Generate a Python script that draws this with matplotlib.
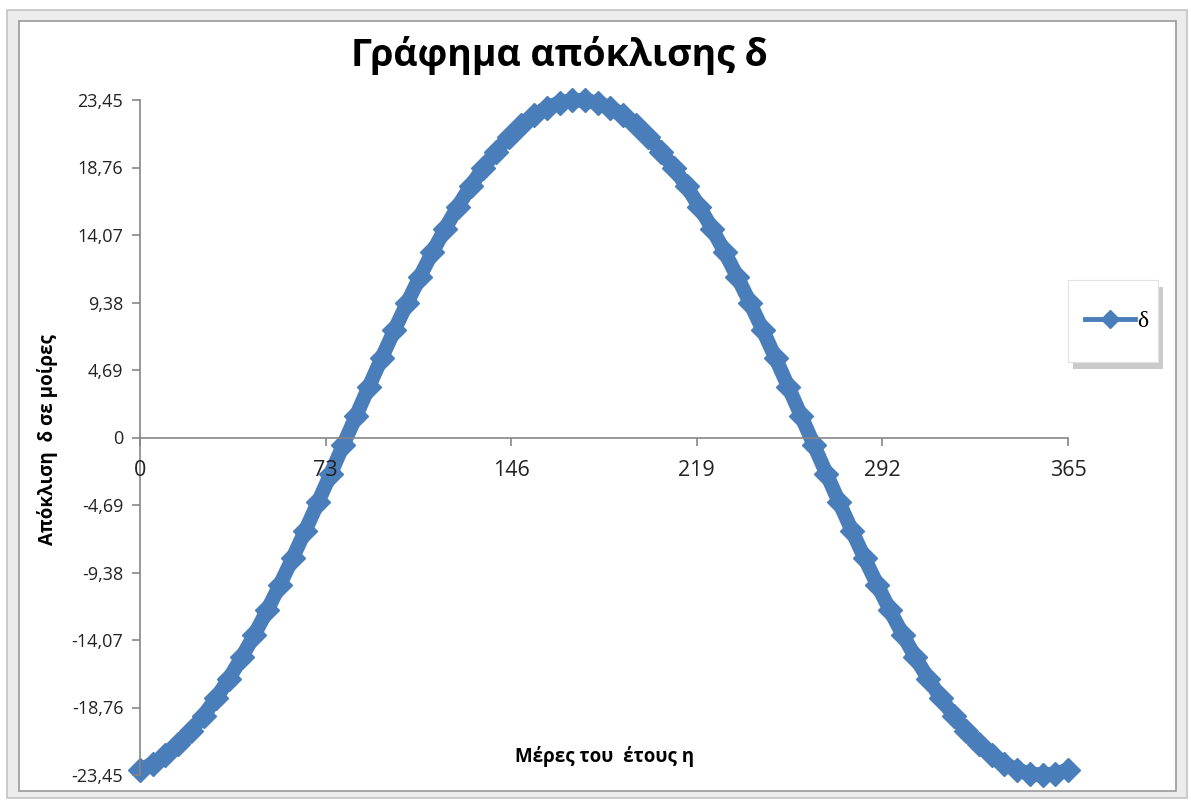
import matplotlib.pyplot as plt
from matplotlib.lines import Line2D
from matplotlib.patches import Rectangle

# day of year and declination (degrees), every 5 days
days = [0, 5, 10, 15, 20, 25, 30, 35, 40, 45, 50, 55, 60, 65, 70, 75, 80, 85, 90, 95,
        100, 105, 110, 115, 120, 125, 130, 135, 140, 145, 150, 155, 160, 165, 170, 175,
        180, 185, 190, 195, 200, 205, 210, 215, 220, 225, 230, 235, 240, 245, 250, 255,
        260, 265, 270, 275, 280, 285, 290, 295, 300, 305, 310, 315, 320, 325, 330, 335,
        340, 345, 350, 355, 360, 365]
delta = [-23.10, -22.67, -22.07, -21.31, -20.39, -19.32, -18.11, -16.76, -15.28, -13.70,
         -12.02, -10.24, -8.39, -6.47, -4.51, -2.52, -0.50, 1.51, 3.52, 5.50,
         7.44, 9.32, 11.14, 12.87, 14.51, 16.04, 17.45, 18.73, 19.87, 20.87,
         21.71, 22.39, 22.91, 23.26, 23.43, 23.43, 23.26, 22.91, 22.39, 21.71,
         20.87, 19.87, 18.73, 17.45, 16.04, 14.51, 12.87, 11.14, 9.32, 7.44,
         5.50, 3.52, 1.51, -0.50, -2.52, -4.51, -6.47, -8.39, -10.24, -12.02,
         -13.70, -15.28, -16.76, -18.11, -19.32, -20.39, -21.31, -22.07, -22.67, -23.10,
         -23.36, -23.45, -23.36, -23.10]

x_ticks = [0, 73, 146, 219, 292, 365]
y_ticks = [-23.45, -18.76, -14.07, -9.38, -4.69, 0, 4.69, 9.38, 14.07, 18.76, 23.45]

blue = '#4a7ebb'
axis_gray = '#868686'
plt.rcParams['font.family'] = ['Open Sans', 'Liberation Sans', 'DejaVu Sans']

fig = plt.figure(figsize=(11.91, 8), dpi=100)
W, H = 1191, 800


def px_rect(x0, y0, x1, y1, **kw):
    # rectangle given in pixel coords (origin top-left)
    r = Rectangle((x0 / W, 1 - y1 / H), (x1 - x0) / W, (y1 - y0) / H,
                  transform=fig.transFigure, **kw)
    fig.patches.append(r)
    return r


# Excel-like chart frame, kept behind the axes
px_rect(7, 10, 1187, 798, facecolor='#ececec', edgecolor='#c4c4c4', lw=1.2, zorder=-2)
px_rect(19, 21, 1176, 791, facecolor='white', edgecolor='#9a9a9a', lw=1.2, zorder=-1)

ax = fig.add_axes([140 / W, 1 - 775 / H, 928 / W, 675 / H])
ax.set_facecolor('none')
ax.set_axisbelow(False)  # tick labels sit on top of the curve, as in the original

ax.plot(days, delta, color=blue, lw=10.5, marker='D', markersize=12.5,
        markeredgecolor=blue, clip_on=False, zorder=2, solid_joinstyle='round',
        solid_capstyle='round')

ax.set_xlim(0, 365)
ax.set_ylim(-23.45, 23.45)
ax.set_xticks(x_ticks)
ax.set_xticklabels([str(v) for v in x_ticks])
ax.set_yticks(y_ticks)
ax.set_yticklabels(['0' if v == 0 else f'{v:.2f}'.replace('.', ',') for v in y_ticks])

ax.spines['top'].set_visible(False)
ax.spines['right'].set_visible(False)
ax.spines['bottom'].set_position(('data', 0))
for s in ('left', 'bottom'):
    ax.spines[s].set_color(axis_gray)
    ax.spines[s].set_linewidth(1.2)
ax.tick_params(axis='both', colors=axis_gray, length=6, width=1.2, labelcolor='#222222')
ax.tick_params(axis='x', pad=10, labelsize=15.5)
ax.tick_params(axis='y', pad=6, labelsize=13)

fig.text(0.470, 0.931, 'Γράφημα απόκλισης δ', ha='center', va='center',
         fontsize=27, fontweight='bold')
fig.text(0.0395, 0.45, 'Απόκλιση  δ σε μοίρες', ha='center', va='center',
         rotation=90, fontsize=13.5, fontweight='bold')
fig.text(0.508, 0.054, 'Μέρες του  έτους η', ha='center', va='center',
         fontsize=13.5, fontweight='bold')

# legend box with soft shadow, then the legend entry on top
px_rect(1073, 287, 1163, 369, facecolor='#8c8c8c', edgecolor='none', alpha=0.45, zorder=4)
px_rect(1068, 280, 1158, 362, facecolor='white', edgecolor='#e2e2e2', lw=0.8, zorder=5)
handle = Line2D([], [], color=blue, lw=3.5, marker='D', markersize=9)
leg = fig.legend([handle], ['δ'], loc='center', bbox_to_anchor=(1117 / W, 1 - 321 / H),
                 frameon=False, borderpad=0, borderaxespad=0, handlelength=2.1,
                 handletextpad=0.1,
                 prop={'family': ['Liberation Serif', 'DejaVu Serif'], 'size': 17})
leg.set_zorder(6)

fig.savefig('out.png', dpi=100)
